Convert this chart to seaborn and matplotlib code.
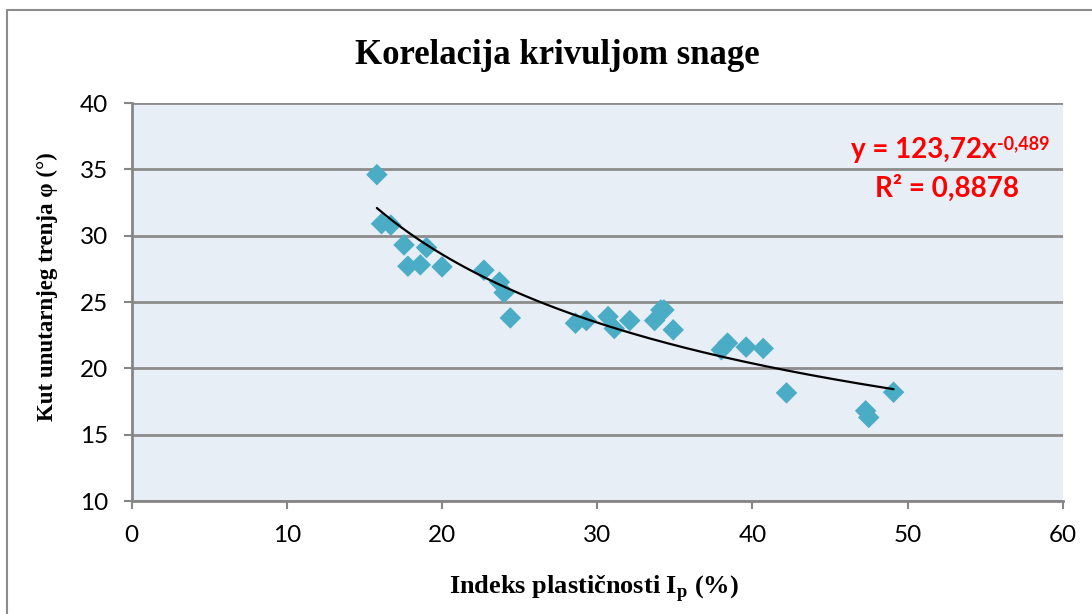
import numpy as np
import pandas as pd
import seaborn as sns
import matplotlib
matplotlib.use('Agg')
import matplotlib.pyplot as plt
from matplotlib.lines import Line2D

# Indeks plasticnosti Ip (%) i kut unutarnjeg trenja (deg), ocitano sa slike
ip = [15.8, 16.1, 16.7, 17.55, 17.8, 18.6, 19.0, 20.0, 22.7, 23.7, 24.0, 24.4,
      28.6, 29.3, 30.7, 31.1, 32.1, 33.7, 34.1, 34.3, 34.9,
      38.0, 38.4, 39.6, 40.7, 42.2, 47.3, 47.5, 49.1]
phi = [34.6, 30.9, 30.8, 29.3, 27.7, 27.8, 29.1, 27.65, 27.4, 26.5, 25.7, 23.8,
       23.4, 23.6, 23.9, 23.0, 23.6, 23.6, 24.4, 24.4, 22.9,
       21.4, 21.9, 21.6, 21.5, 18.15, 16.8, 16.3, 18.2]

# koeficijenti krivulje snage (trendline)
coef_a = 123.72
coef_b = -0.489
r2 = 0.8878

x_ticks = [0, 10, 20, 30, 40, 50, 60]
y_ticks = [10, 15, 20, 25, 30, 35, 40]

title = 'Korelacija krivuljom snage'
xlabel = r'Indeks plastičnosti I$_\mathbf{p}$ (%)'
ylabel = 'Kut unutarnjeg trenja φ (°)'


def main():
    sns.set_theme(style='white')
    plt.rcParams['font.family'] = ['Lato', 'DejaVu Sans']
    plt.rcParams['text.color'] = 'black'
    plt.rcParams['mathtext.fontset'] = 'custom'
    plt.rcParams['mathtext.rm'] = 'Liberation Serif:bold'
    plt.rcParams['mathtext.bf'] = 'Liberation Serif:bold'

    df = pd.DataFrame({'Ip': ip, 'phi': phi})

    fig = plt.figure(figsize=(10.92, 6.14), dpi=100)
    ax = fig.add_axes([131.7 / 1092, 1 - 501 / 614,
                       (1062.7 - 131.7) / 1092, (501 - 103) / 614])
    ax.set_facecolor('#E8EEF6')

    # krivulja snage
    xs = np.linspace(min(ip), max(ip), 200)
    trend = pd.DataFrame({'x': xs, 'y': coef_a * xs ** coef_b})

    sns.scatterplot(data=df, x='Ip', y='phi', marker='D', s=120,
                    color='#4BACC6', edgecolor='none', ax=ax, zorder=3)
    sns.lineplot(data=trend, x='x', y='y', color='black', lw=1.6, ax=ax, zorder=4)

    ax.set_xlim(0, 60)
    ax.set_ylim(10, 40)
    ax.set_xticks(x_ticks)
    ax.set_yticks(y_ticks)
    ax.set_xlabel('')
    ax.set_ylabel('')
    ax.tick_params(axis='both', labelsize=17.5, colors='#868686', labelcolor='black',
                   length=6, width=1.5, direction='out')
    ax.tick_params(axis='x', bottom=True, pad=11)
    ax.tick_params(axis='y', left=True, pad=11)
    ax.yaxis.grid(True, color='#8C8C8C', lw=2)
    ax.set_axisbelow(True)
    for side in ['top', 'right']:
        ax.spines[side].set_visible(False)
    for side in ['left', 'bottom']:
        ax.spines[side].set_color('#868686')
        ax.spines[side].set_linewidth(2)

    # jednadzba i R2
    t = ax.text(55.75, 36.45, 'y = 123,72x', color='red', fontsize=20,
                fontweight='bold', ha='right', va='center')
    ax.annotate('-0,489', xy=(1.0, 1.0), xycoords=t, xytext=(0, 1),
                textcoords='offset points', color='red', fontsize=13,
                fontweight='bold', ha='left', va='top')
    ax.text(52.56, 33.6, 'R² = 0,8878', color='red', fontsize=20,
            fontweight='bold', ha='center', va='center')

    serif = ['Liberation Serif', 'DejaVu Serif']
    fig.text(557 / 1092, 1 - 56 / 614, title, family=serif, fontsize=25,
             fontweight='bold', ha='center', va='center', color='black')
    fig.text(594 / 1092, 1 - 588 / 614, xlabel, family=serif, fontsize=19,
             fontweight='bold', ha='center', va='center', color='black')
    fig.text(47 / 1092, 1 - 287 / 614, ylabel, family=serif, fontsize=16.5,
             fontweight='bold', ha='center', va='center', rotation=90,
             color='black')

    # okvir grafikona
    fig.add_artist(Line2D([7 / 1092, 7 / 1092], [0, 1 - 10 / 614],
                          transform=fig.transFigure, color='#8C8C8C', lw=1.5))
    fig.add_artist(Line2D([7 / 1092, 1], [1 - 10 / 614, 1 - 10 / 614],
                          transform=fig.transFigure, color='#8C8C8C', lw=1.5))

    fig.savefig('out.png', dpi=100)
    return 0


if __name__ == '__main__':
    main()
